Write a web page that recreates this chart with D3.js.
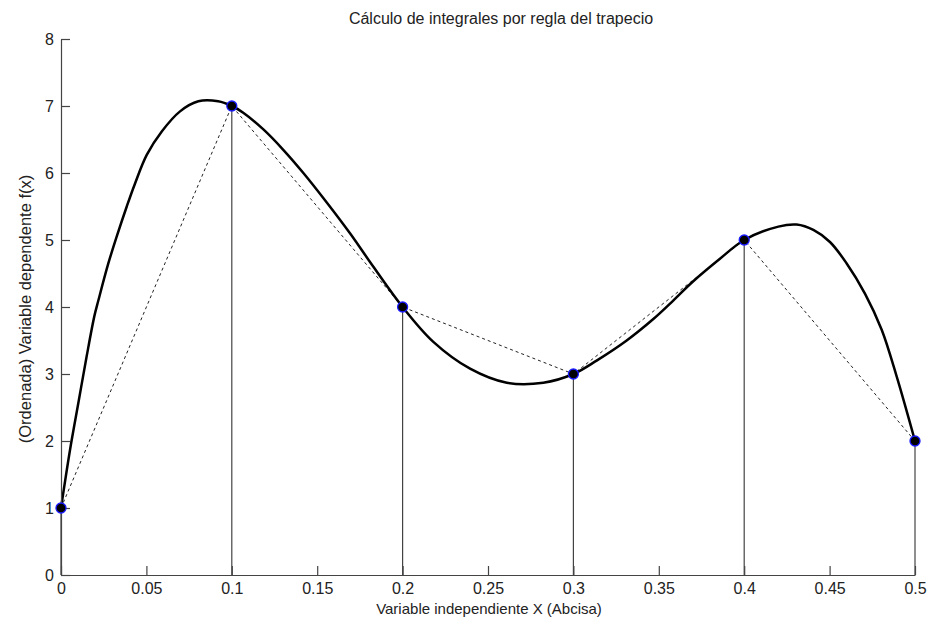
<!DOCTYPE html>
<html>
<head>
<meta charset="utf-8">
<script src="https://cdn.jsdelivr.net/npm/d3@7"></script>
<style>
  html, body { margin: 0; padding: 0; background: #fff; }
  text { font-family: "Liberation Sans", Arial, sans-serif; }
</style>
</head>
<body>
<svg id="chart" width="927" height="627"></svg>
<script>
// Nodes (trapezoid points)
const nodeX = [0, 0.1, 0.2, 0.3, 0.4, 0.5];
const nodeY = [1, 7, 4, 3, 5, 2];

// Smooth curve f(x)
const curveX = [0, 0.0053, 0.0101, 0.015, 0.0195, 0.0219, 0.0277, 0.0326, 0.0385, 0.0433, 0.0502, 0.059, 0.0697, 0.0804, 0.092, 0.1,
  0.1067, 0.1185, 0.130, 0.1419, 0.1556, 0.1692, 0.1829, 0.2,
  0.218, 0.2395, 0.261, 0.2824, 0.3,
  0.3136, 0.3312, 0.3468, 0.3566, 0.370, 0.3858, 0.4,
  0.42, 0.4307, 0.4405, 0.4502, 0.46, 0.4707, 0.4805, 0.4893, 0.5];
const curveY = [1, 1.87, 2.56, 3.26, 3.86, 4.10, 4.65, 5.05, 5.50, 5.84, 6.27, 6.62, 6.92, 7.07, 7.07, 7.0,
  6.90, 6.65, 6.35, 6.00, 5.56, 5.10, 4.60, 4.0,
  3.48, 3.08, 2.87, 2.87, 3.0,
  3.20, 3.50, 3.82, 4.05, 4.38, 4.72, 5.0,
  5.20, 5.23, 5.15, 4.97, 4.65, 4.20, 3.66, 2.96, 2.0];

const xTicks = [0, 0.05, 0.1, 0.15, 0.2, 0.25, 0.3, 0.35, 0.4, 0.45, 0.5];
const xTickLabels = ["0", "0.05", "0.1", "0.15", "0.2", "0.25", "0.3", "0.35", "0.4", "0.45", "0.5"];
const yTicks = [0, 1, 2, 3, 4, 5, 6, 7, 8];
const yTickLabels = ["0", "1", "2", "3", "4", "5", "6", "7", "8"];

const title = "Cálculo de integrales por regla del trapecio";
const xLabel = "Variable independiente X (Abcisa)";
const yLabel = "(Ordenada) Variable dependente f(x)";

(function () {
const svg = d3.select("#chart");
const mLeft = 61, mRight = 915, mTop = 39, mBottom = 575;
const x = d3.scaleLinear().domain([0, 0.5]).range([mLeft, mRight]);
const y = d3.scaleLinear().domain([0, 8]).range([mBottom, mTop]);

const textColor = "#222";

// vertical lines from each node to the x axis
svg.append("g").selectAll("line").data(nodeX).join("line")
  .attr("x1", d => x(d)).attr("x2", d => x(d))
  .attr("y1", (d, i) => y(nodeY[i])).attr("y2", y(0))
  .attr("stroke", "#444").attr("stroke-width", 1.2);

// dashed trapezoid line
svg.append("path")
  .datum(nodeX.map((d, i) => [d, nodeY[i]]))
  .attr("d", d3.line().x(d => x(d[0])).y(d => y(d[1])))
  .attr("fill", "none").attr("stroke", "#222").attr("stroke-width", 1)
  .attr("stroke-dasharray", "3,3");

// smooth function curve
svg.append("path")
  .datum(curveX.map((d, i) => [d, curveY[i]]))
  .attr("d", d3.line().x(d => x(d[0])).y(d => y(d[1])).curve(d3.curveCatmullRom))
  .attr("fill", "none").attr("stroke", "#000").attr("stroke-width", 2.5)
  .attr("stroke-linejoin", "round");

// axes
const xAxis = d3.axisBottom(x).tickValues(xTicks).tickFormat((d, i) => xTickLabels[i])
  .tickSizeInner(-9).tickSizeOuter(0).tickPadding(8);
const yAxis = d3.axisLeft(y).tickValues(yTicks).tickFormat((d, i) => yTickLabels[i])
  .tickSizeInner(-9).tickSizeOuter(0).tickPadding(7);

const gx = svg.append("g").attr("transform", `translate(0,${mBottom})`).call(xAxis);
const gy = svg.append("g").attr("transform", `translate(${mLeft},0)`).call(yAxis);
[gx, gy].forEach(g => {
  g.select(".domain").attr("stroke", "#444").attr("stroke-width", 1.2);
  g.selectAll(".tick line").attr("stroke", "#444").attr("stroke-width", 1.2);
  g.selectAll(".tick text").attr("fill", textColor).style("font-size", "16px")
    .style("font-family", '"Liberation Sans", Arial, sans-serif');
});

// markers
svg.append("g").selectAll("circle").data(nodeX).join("circle")
  .attr("cx", d => x(d)).attr("cy", (d, i) => y(nodeY[i]))
  .attr("r", 5).attr("fill", "#000").attr("stroke", "#1a1aff").attr("stroke-width", 1.3);

// title and labels
svg.append("text").attr("x", 501).attr("y", 24).attr("text-anchor", "middle")
  .attr("fill", textColor).style("font-size", "16px").text(title);
svg.append("text").attr("x", 489).attr("y", 614).attr("text-anchor", "middle")
  .attr("fill", textColor).style("font-size", "15px").text(xLabel);
svg.append("text").attr("transform", `translate(31,309) rotate(-90)`).attr("text-anchor", "middle")
  .attr("fill", textColor).style("font-size", "16.5px").text(yLabel);
})();
</script>
</body>
</html>
